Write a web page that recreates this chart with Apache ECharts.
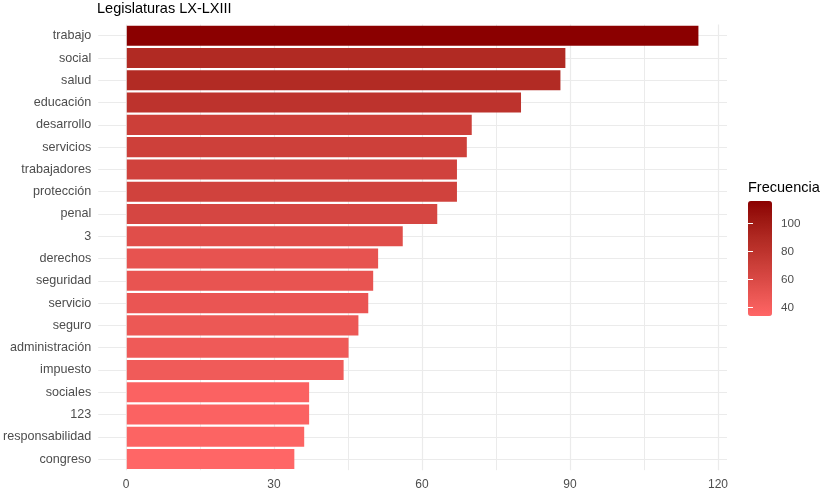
<!DOCTYPE html>
<html><head><meta charset="utf-8">
<script src="https://cdn.jsdelivr.net/npm/echarts@6/dist/echarts.min.js"></script>
<style>html,body{margin:0;padding:0;background:#fff}#c{width:824px;height:491px}</style>
</head><body><div id="c"></div>
<script>
const title = 'Legislaturas LX-LXIII';
const legendTitle = 'Frecuencia';
const categories = ['trabajo','social','salud','educación','desarrollo','servicios','trabajadores','protección','penal','3','derechos','seguridad','servicio','seguro','administración','impuesto','sociales','123','responsabilidad','congreso'];
const values = [116,89,88,80,70,69,67,67,63,56,51,50,49,47,45,44,37,37,36,34];
const xTicks = [0,30,60,90,120];
const legendTicks = [40,60,80,100];
const lowColor = '#FF6666', highColor = '#8B0000';

// Lab interpolation helpers (ggplot gradients interpolate in Lab)
function hex2rgb(h){h=h.replace('#','');return [0,2,4].map(i=>parseInt(h.substr(i,2),16)/255);}
function lin(c){return c<=0.04045?c/12.92:Math.pow((c+0.055)/1.055,2.4);}
function delin(c){return c<=0.0031308?12.92*c:1.055*Math.pow(c,1/2.4)-0.055;}
const Xn=0.95047,Yn=1,Zn=1.08883;
function f(t){return t>0.008856?Math.cbrt(t):7.787*t+16/116;}
function finv(t){return t>0.206893?t*t*t:(t-16/116)/7.787;}
function toLab(h){const [r,g,b]=hex2rgb(h).map(lin);
  const X=0.4124*r+0.3576*g+0.1805*b,Y=0.2126*r+0.7152*g+0.0722*b,Z=0.0193*r+0.1192*g+0.9505*b;
  const fx=f(X/Xn),fy=f(Y/Yn),fz=f(Z/Zn);return [116*fy-16,500*(fx-fy),200*(fy-fz)];}
function fromLab([L,a,b]){const fy=(L+16)/116,fx=fy+a/500,fz=fy-b/200;
  const X=finv(fx)*Xn,Y=finv(fy)*Yn,Z=finv(fz)*Zn;
  let r=3.2406*X-1.5372*Y-0.4986*Z,g=-0.9689*X+1.8758*Y+0.0415*Z,bb=0.0557*X-0.2040*Y+1.0570*Z;
  return '#'+[r,g,bb].map(c=>{c=Math.round(Math.min(1,Math.max(0,delin(c)))*255);return c.toString(16).padStart(2,'0');}).join('');}
const labLo=toLab(lowColor),labHi=toLab(highColor);
const stops=[];for(let i=0;i<=16;i++){const t=i/16;stops.push(fromLab(labLo.map((v,k)=>v+(labHi[k]-v)*t)));}

const vmin=Math.min(...values), vmax=Math.max(...values);
const font='"Liberation Sans", Arial, sans-serif';
const pad=(vmax-0)*0.05;
const gTop=24.6, gH=445.6;

const chart=echarts.init(document.getElementById('c'));
chart.setOption({
  animation:false,
  backgroundColor:'#fff',
  textStyle:{fontFamily:font},
  title:{text:title,left:97,top:1,padding:0,textStyle:{fontFamily:font,fontSize:14.5,fontWeight:'normal',color:'#000'}},
  grid:[
    {left:97,top:gTop,width:630,height:gH},
    {left:126,top:gTop,width:592,height:gH},
    {left:748,top:201,width:24,height:115}
  ],
  xAxis:[
    {gridIndex:0,type:'value',min:-pad,max:vmax+pad,show:false},
    {gridIndex:1,type:'value',min:0,max:120,interval:30,
     axisLine:{show:false},axisTick:{show:false},
     axisLabel:{color:'#4D4D4D',fontSize:12,margin:8,fontFamily:font,customValues:xTicks},
     splitLine:{show:true,lineStyle:{color:'#EBEBEB',width:1.2}},
     minorTick:{show:false,splitNumber:2},
     minorSplitLine:{show:true,lineStyle:{color:'#EBEBEB',width:1}}},
    {gridIndex:2,type:'value',min:0,max:1,show:false}
  ],
  yAxis:[
    {gridIndex:0,type:'category',data:categories,inverse:true,
     axisLine:{show:false},axisTick:{show:false},
     axisLabel:{color:'#4D4D4D',fontSize:12.6,margin:7,fontFamily:font},
     splitLine:{show:true,alignWithLabel:true,lineStyle:{color:'#EBEBEB',width:1.2}}},
    {gridIndex:1,type:'category',data:categories,inverse:true,show:false},
    {gridIndex:2,type:'value',min:vmin,max:vmax,position:'right',z:10,
     axisLine:{show:false},
     axisTick:{show:true,inside:true,length:5,customValues:legendTicks,lineStyle:{color:'#fff',width:1}},
     axisLabel:{show:true,customValues:legendTicks,color:'#4D4D4D',fontSize:11.7,margin:9,fontFamily:font},
     splitLine:{show:false}},
    {gridIndex:2,type:'value',min:vmin,max:vmax,position:'left',z:10,
     axisLine:{show:false},
     axisTick:{show:true,inside:true,length:5,customValues:legendTicks,lineStyle:{color:'#fff',width:1}},
     axisLabel:{show:false},splitLine:{show:false}}
  ],
  visualMap:{type:'continuous',min:vmin,max:vmax,dimension:0,seriesIndex:0,
    inRange:{color:stops},calculable:false,hoverLink:false,
    orient:'vertical',left:748,top:201,itemWidth:24,itemHeight:115,padding:0,text:null,showLabel:false,
    textStyle:{color:'transparent'}},
  graphic:[{type:'text',left:748,top:180,style:{text:legendTitle,font:'14.5px '+font,fill:'#000'}}],
  series:[{type:'bar',xAxisIndex:0,yAxisIndex:0,
    data:categories.map((c,i)=>[values[i],c]),encode:{x:0,y:1},
    barCategoryGap:'10%'}]
});
</script></body></html>
